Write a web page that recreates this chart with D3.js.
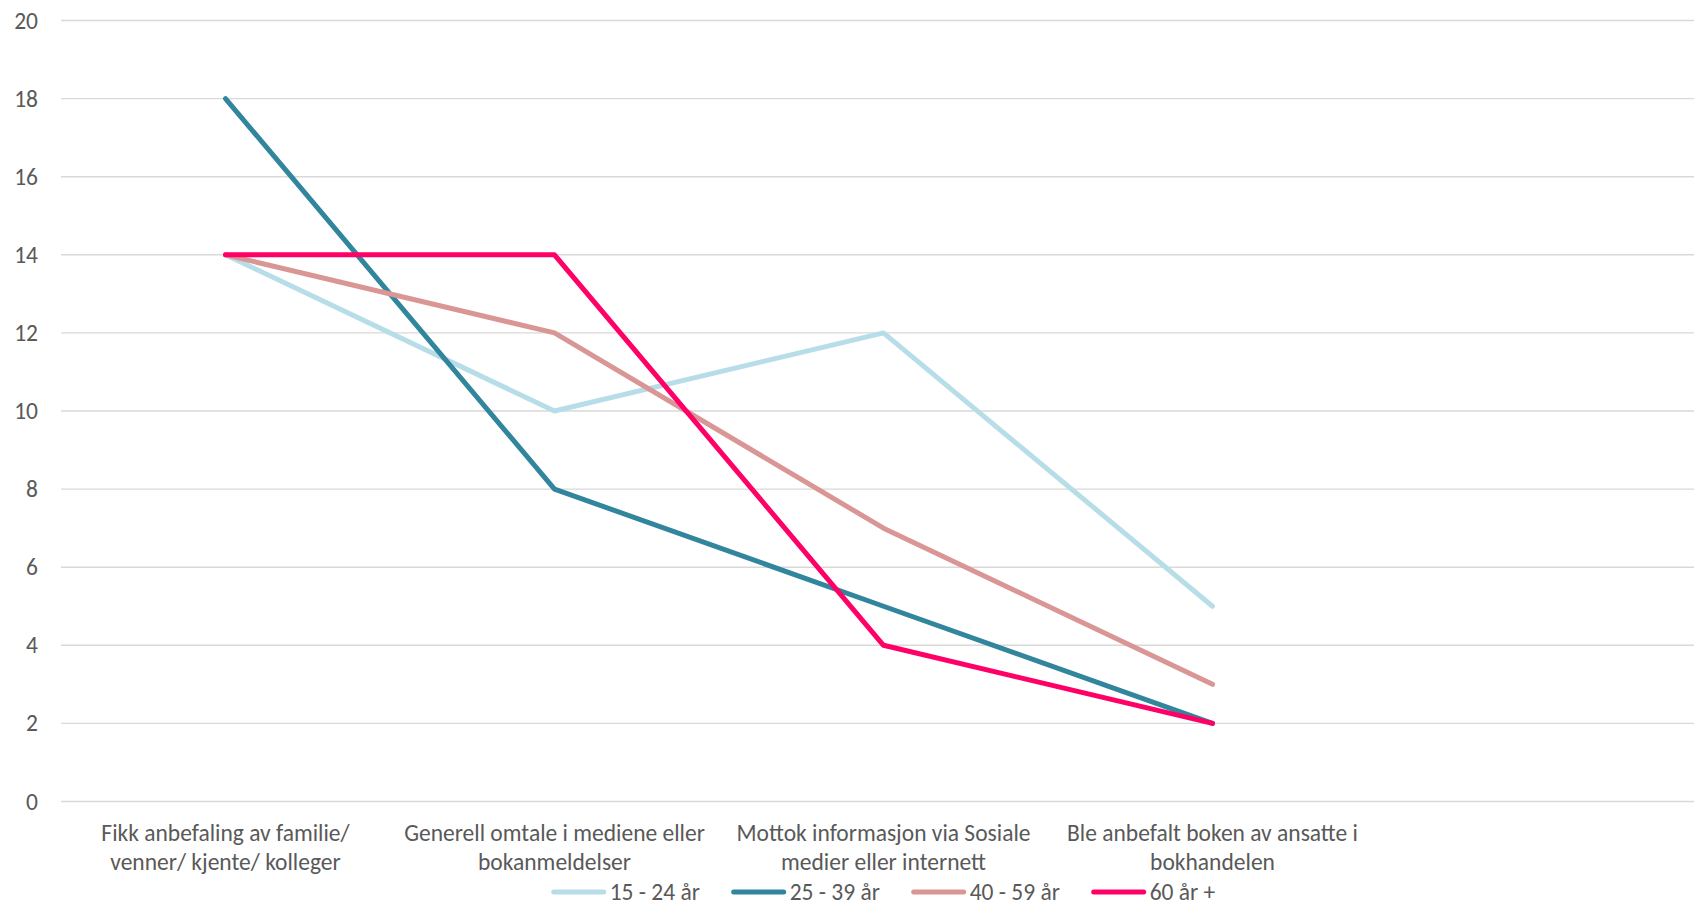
<!DOCTYPE html>
<html>
<head>
<meta charset="utf-8">
<script src="https://cdn.jsdelivr.net/npm/d3@7"></script>
<style>
  html, body { margin: 0; padding: 0; background: #fff; }
  svg { display: block; }
  text { font-family: Carlito, Lato, "Open Sans", sans-serif; fill: #595959; }
</style>
</head>
<body>
<svg id="chart" width="1694" height="908"></svg>
<script>
// ---- Data ----
const categories = [
  "Fikk anbefaling av familie/ venner/ kjente/ kolleger",
  "Generell omtale i mediene eller bokanmeldelser",
  "Mottok informasjon via Sosiale medier eller internett",
  "Ble anbefalt boken av ansatte i bokhandelen",
  ""
];
const seriesNames = ["15 - 24 år", "25 - 39 år", "40 - 59 år", "60 år +"];
const s15_24 = [14, 10, 12, 5];
const s25_39 = [18, 8, 5, 2];
const s40_59 = [14, 12, 7, 3];
const s60 = [14, 14, 4, 2];
const seriesValues = [s15_24, s25_39, s40_59, s60];
const seriesColors = ["#B7DEE8", "#31859C", "#D99694", "#FF0066"];
const yTicks = [0, 2, 4, 6, 8, 10, 12, 14, 16, 18, 20];

// ---- Layout ----
const W = 1694, H = 908;
const plotLeft = 61, plotRight = 1706, plotTop = 20.5, plotBottom = 801.5;
const fontSize = 23.5;
const ff = "Carlito, Lato, 'Open Sans', sans-serif";

const svg = d3.select("#chart");

const x = d3.scaleBand().domain(categories.map((c, i) => i)).range([plotLeft, plotRight]).padding(0);
const xc = i => x(i) + x.bandwidth() / 2;
const y = d3.scaleLinear().domain([0, 20]).range([plotBottom, plotTop]);

// gridlines
svg.append("g").selectAll("line").data(yTicks).join("line")
  .attr("x1", plotLeft).attr("x2", plotRight)
  .attr("y1", d => y(d)).attr("y2", d => y(d))
  .attr("stroke", "#D9D9D9").attr("stroke-width", 1.4);

// y labels
const yAxis = d3.axisLeft(y).tickValues(yTicks).tickSize(0).tickPadding(0);
const gy = svg.append("g").attr("transform", `translate(38,0)`).call(yAxis);
gy.select(".domain").remove();
gy.selectAll("text").style("font-size", fontSize + "px").attr("fill", "#595959")
  .style("font-family", ff);

// category labels (wrapped)
function wrapLines(text, maxW) {
  const words = text.split(/\s+/).filter(w => w);
  const tmp = svg.append("text").style("font-size", fontSize + "px");
  const lines = [];
  let cur = "";
  words.forEach(w => {
    const test = cur ? cur + " " + w : w;
    tmp.text(test);
    if (tmp.node().getComputedTextLength() > maxW && cur) {
      lines.push(cur); cur = w;
    } else cur = test;
  });
  if (cur) lines.push(cur);
  tmp.remove();
  return lines;
}
const catG = svg.append("g");
categories.forEach((c, i) => {
  const lines = wrapLines(c, 316);
  const t = catG.append("text").attr("text-anchor", "middle")
    .attr("x", xc(i)).attr("y", 841).style("font-size", fontSize + "px");
  lines.forEach((l, k) => {
    t.append("tspan").attr("x", xc(i)).attr("dy", k === 0 ? 0 : 29).text(l);
  });
});

// lines
const line = d3.line().x((d, i) => xc(i)).y(d => y(d));
svg.append("g").selectAll("path").data(seriesValues).join("path")
  .attr("d", d => line(d))
  .attr("fill", "none")
  .attr("stroke", (d, i) => seriesColors[i])
  .attr("stroke-width", 5)
  .attr("stroke-linecap", "round")
  .attr("stroke-linejoin", "round");

// legend
const legStep = 180, sampleW = 54, legY = 892;
const lg = svg.append("g");
const tmpT = svg.append("text").style("font-size", fontSize + "px").text(seriesNames[seriesNames.length - 1]);
const lastW = sampleW + 4 + tmpT.node().getComputedTextLength();
tmpT.remove();
const legTotal = (seriesNames.length - 1) * legStep + lastW;
const legStart = (plotLeft + plotRight) / 2 - legTotal / 2;
seriesNames.forEach((n, i) => {
  const x0 = legStart + i * legStep;
  lg.append("line").attr("x1", x0 + 2).attr("x2", x0 + sampleW - 2)
    .attr("y1", legY).attr("y2", legY)
    .attr("stroke", seriesColors[i]).attr("stroke-width", 5).attr("stroke-linecap", "round");
  lg.append("text").attr("x", x0 + sampleW + 4).attr("y", legY).attr("dy", "0.35em")
    .style("font-size", fontSize + "px").text(n);
});
</script>
</body>
</html>
